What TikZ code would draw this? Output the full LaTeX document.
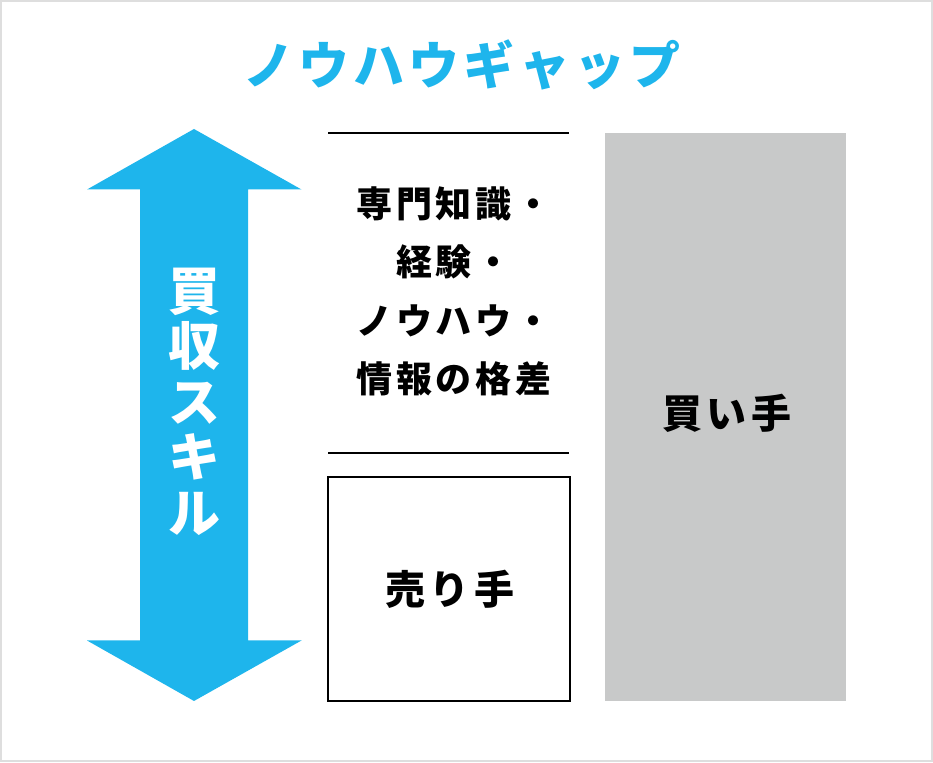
\documentclass[tikz,border=0pt]{standalone}
\usepackage{fontspec}
\newfontfamily\jp{Noto Sans CJK JP}
\definecolor{SkillColor}{RGB}{30,181,236}
\definecolor{BuyerColor}{RGB}{200,201,201}
\definecolor{FrameColor}{RGB}{222,222,222}
\usetikzlibrary{positioning}
\tikzstyle{frame} = [draw=FrameColor, line width=2pt]
\tikzstyle{rule} = [draw=black, line width=2pt]
\tikzstyle{party} = [font=\jp\bfseries\fontsize{40}{44}\selectfont\addfontfeatures{LetterSpace=11}, inner sep=0pt]

\begin{document}
\begin{tikzpicture}[x=1pt, y=1pt]
    % Frame
    \useasboundingbox (0,0) rectangle (933,762);
    \draw[frame] (1,1) rectangle (932,761);

    % Title
    \node[SkillColor, font=\jp\bfseries\fontsize{51}{56}\selectfont\addfontfeatures{LetterSpace=8}] (title) at (462,697) {ノウハウギャップ};

    % Skill arrow
    \fill[SkillColor] (194,633) -- (301.5,572.5) -- (248,572.5) -- (248,121.5) -- (301.5,121.5)
        -- (194,61) -- (87,121.5) -- (140,121.5) -- (140,572.5) -- (87,572.5) -- cycle;
    \node[white, align=center, font=\jp\bfseries\fontsize{52}{55.5}\selectfont, inner sep=0pt] (skill) at (194,360.5) {買\\収\\ス\\キ\\ル};

    % Gap
    \coordinate (gaptl) at (328,629);
    \coordinate (gaptr) at (569,629);
    \coordinate (gapbl) at (328,309);
    \coordinate (gapbr) at (569,309);
    \draw[rule] (gaptl) -- (gaptr);
    \draw[rule] (gapbl) -- (gapbr);
    \node[align=center, font=\jp\bfseries\fontsize{36}{58.3}\selectfont\addfontfeatures{LetterSpace=11}, inner sep=0pt] (gap) at (454,470.5) {専門知識・\\経験・\\ノウハウ・\\情報の格差};

    % Seller and buyer
    \node[party, draw, line width=2pt, minimum width=242.5pt, minimum height=224pt] (seller) at (448.75,173) {};
    \node[party] (sellerlabel) at (450,173) {売り手};
    \node[party, fill=BuyerColor, minimum width=241pt, minimum height=568pt] (buyer) at (725.5,345) {};
    \node[party] (buyerlabel) at (727,349) {買い手};
\end{tikzpicture}
\end{document}
